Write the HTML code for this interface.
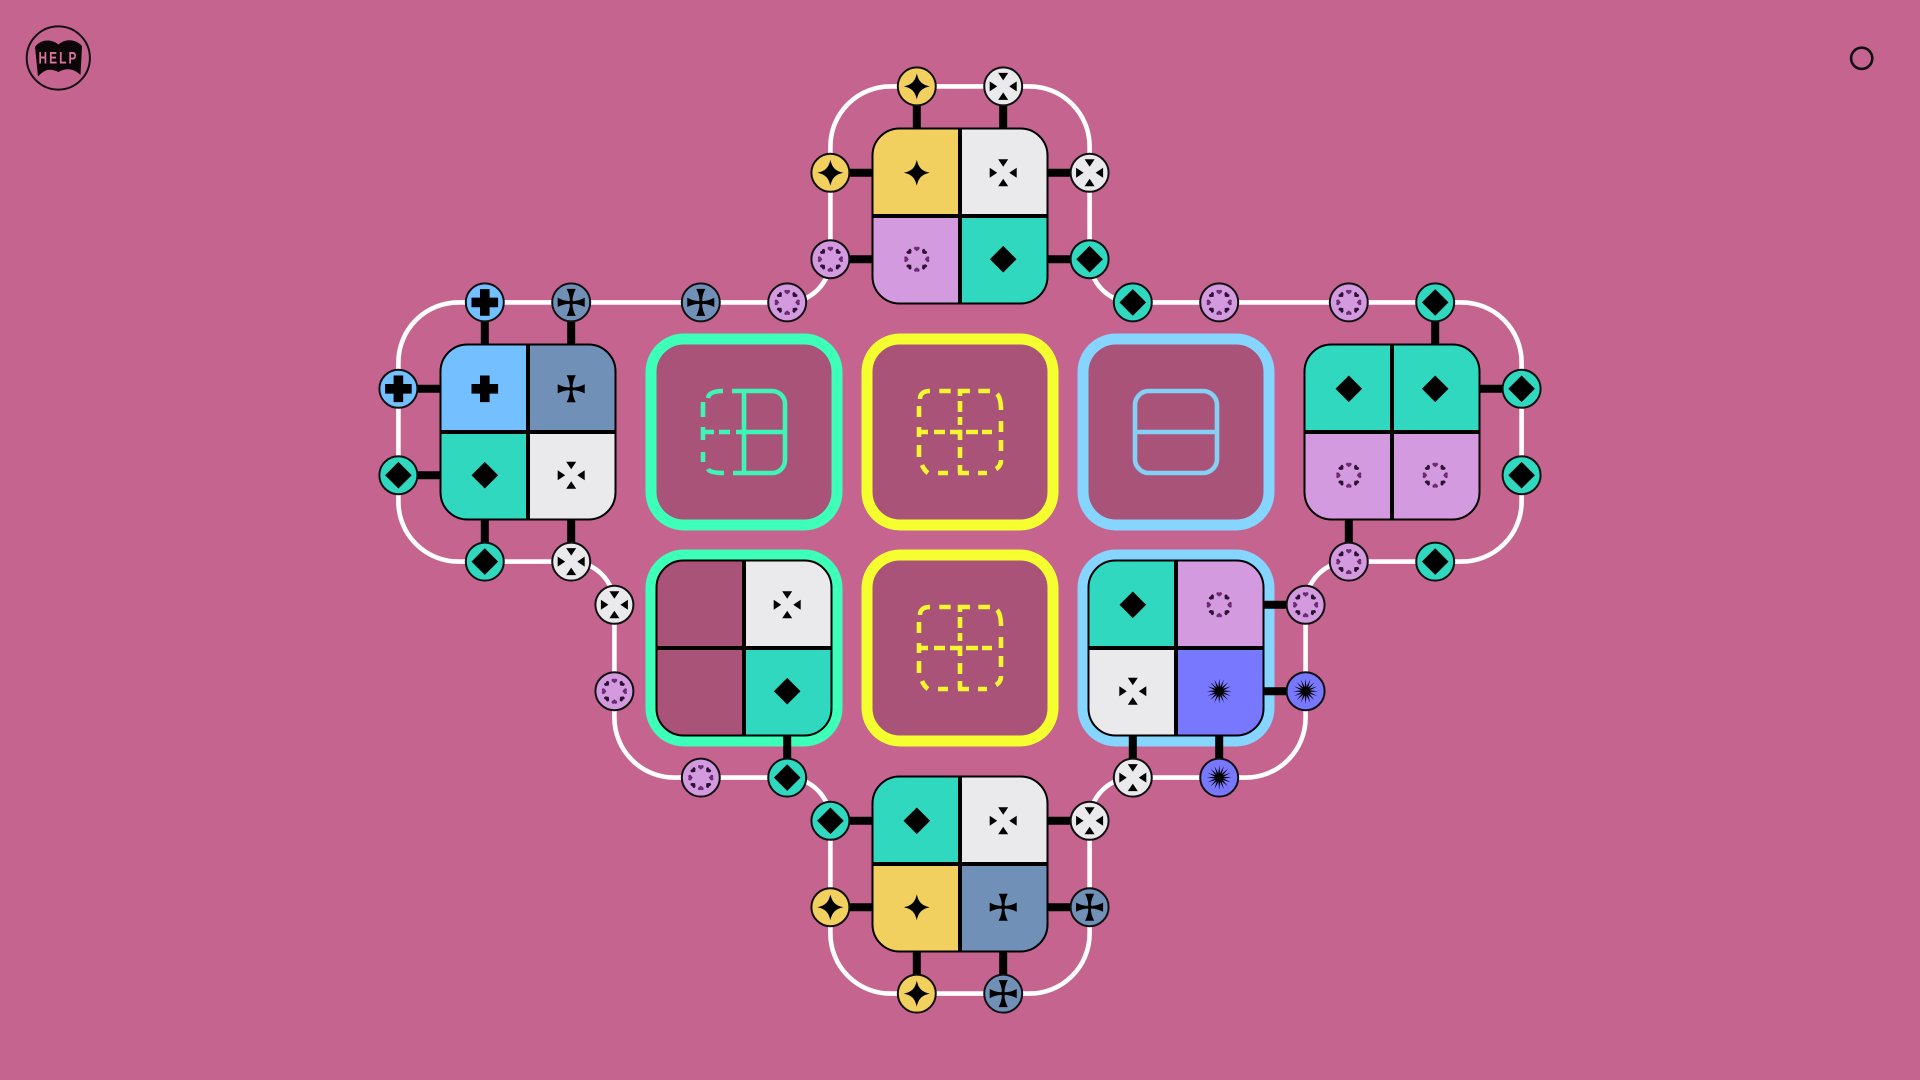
<!DOCTYPE html>
<html lang="en"><head><meta charset="utf-8"><title>Puzzle</title>
<style>
html,body{margin:0;padding:0;width:1920px;height:1080px;overflow:hidden;background:#C66490}
svg{display:block}
</style></head><body>
<svg xmlns="http://www.w3.org/2000/svg" width="1920" height="1080" viewBox="0 0 1920 1080">
<defs>
<clipPath id="clip"><rect x="-87.5" y="-87.5" width="175" height="175" rx="27"/></clipPath>
<g id="dia"><path d="M0,-13.3 L13.3,0 L0,13.3 L-13.3,0Z" fill="#000"/></g>
<g id="star"><path d="M0,-13 C1.8,-5 5,-1.8 13,0 C5,1.8 1.8,5 0,13 C-1.8,5 -5,1.8 -13,0 C-5,-1.8 -1.8,-5 0,-13Z" fill="#000"/></g>
<g id="arr" fill="#000"><path d="M-5,-13.5 L5,-13.5 L0,-6Z"/><path d="M-5,-13.5 L5,-13.5 L0,-6Z" transform="rotate(90)"/><path d="M-5,-13.5 L5,-13.5 L0,-6Z" transform="rotate(180)"/><path d="M-5,-13.5 L5,-13.5 L0,-6Z" transform="rotate(270)"/></g>
<g id="plus"><path d="M-4.8,-13.3 H4.8 V-4.8 H13.3 V4.8 H4.8 V13.3 H-4.8 V4.8 H-13.3 V-4.8 H-4.8Z" fill="#000"/></g>
<g id="mal" fill="#000"><circle r="2.4"/>
<path d="M-1.3,-1 C-1.3,-6 -2.8,-10 -4.6,-13.5 L4.6,-13.5 C2.8,-10 1.3,-6 1.3,-1Z"/>
<path d="M-1.3,-1 C-1.3,-6 -2.8,-10 -4.6,-13.5 L4.6,-13.5 C2.8,-10 1.3,-6 1.3,-1Z" transform="rotate(90)"/>
<path d="M-1.3,-1 C-1.3,-6 -2.8,-10 -4.6,-13.5 L4.6,-13.5 C2.8,-10 1.3,-6 1.3,-1Z" transform="rotate(180)"/>
<path d="M-1.3,-1 C-1.3,-6 -2.8,-10 -4.6,-13.5 L4.6,-13.5 C2.8,-10 1.3,-6 1.3,-1Z" transform="rotate(270)"/></g>
<g id="burst" fill="#000"><circle r="4.2"/>
<path d="M0,-12.5 L1.3,0 L0,12.5 L-1.3,0Z"/>
<path d="M0,-12.5 L1.3,0 L0,12.5 L-1.3,0Z" transform="rotate(22.5)"/>
<path d="M0,-12.5 L1.3,0 L0,12.5 L-1.3,0Z" transform="rotate(45)"/>
<path d="M0,-12.5 L1.3,0 L0,12.5 L-1.3,0Z" transform="rotate(67.5)"/>
<path d="M0,-12.5 L1.3,0 L0,12.5 L-1.3,0Z" transform="rotate(90)"/>
<path d="M0,-12.5 L1.3,0 L0,12.5 L-1.3,0Z" transform="rotate(112.5)"/>
<path d="M0,-12.5 L1.3,0 L0,12.5 L-1.3,0Z" transform="rotate(135)"/>
<path d="M0,-12.5 L1.3,0 L0,12.5 L-1.3,0Z" transform="rotate(157.5)"/></g>
<path id="mk" d="M-2.9,-11.6 Q-1.6,-13.4 0,-12 Q1.6,-13.4 2.9,-11.6 L2.6,-10 L0,-8 L-2.6,-10Z"/>
<g id="ring">
<g fill="#6B2C70"><use href="#mk"/><use href="#mk" transform="rotate(90)"/><use href="#mk" transform="rotate(180)"/><use href="#mk" transform="rotate(270)"/></g>
<g fill="#2A1230"><use href="#mk" transform="rotate(45)"/><use href="#mk" transform="rotate(135)"/><use href="#mk" transform="rotate(225)"/><use href="#mk" transform="rotate(315)"/></g>
</g>
<g id="tile-lines">
<path d="M0,-87.5 V87.5 M-87.5,0 H87.5" stroke="#000" stroke-width="4" fill="none"/>
<rect x="-87.5" y="-87.5" width="175" height="175" rx="27" fill="none" stroke="#000" stroke-width="2"/>
</g>
<path id="ydash" d="M-40,-33 Q-40,-41 -30,-41 M-20.7,-41 H-9.3 M10,-41 H0 V-36 M0,-31 V-20 M0,-15 V-7 M18.3,-41 H30 M37,-38 Q41,-34 41,-22 M41,-11 V0 M41,8 V19 M41,28 Q41,34 36,37 M18,41 H27 M-2,41 H9 M0,33 V41 M0,15 V26 M-22,41 H-12 M-38,33 Q-36,38 -32,41 M-41,13 V25 M-41,-26 V-15 M-41,-5 V5 M-41,0 H-32 M-26,0 H-15 M-10,0 H0 V8 M6,0 H18 M22,0 H32"/>
</defs>

<rect width="1920" height="1080" fill="#C66490"/>

<!-- help -->
<circle cx="58.3" cy="58" r="31.6" fill="none" stroke="#111" stroke-width="2"/>
<path d="M35,47 C40,40 50,38 58.5,44.5 C66,38 76,39.5 82,46 L80.5,75 C73,68 66,68 58.5,72 C50,68 45,69 38,76.5Z" fill="#0d0608"/>
<text transform="translate(58.5,63.5) scale(.7,1)" text-anchor="middle" font-family="'Liberation Sans',sans-serif" font-weight="700" font-size="17" letter-spacing="3" fill="#D8739E">HELP</text>

<circle cx="1861.7" cy="58.3" r="10.6" fill="none" stroke="#111" stroke-width="2.6"/>

<!-- wire -->
<path d="M830.4,259.2 V146.4 A60,60 0 0 1 890.4,86.4 H1029.6 A60,60 0 0 1 1089.6,146.4 V259.2 A43.2,43.2 0 0 0 1132.8,302.4 H1461.6 A60,60 0 0 1 1521.6,362.4 V501.6 A60,60 0 0 1 1461.6,561.6 H1348.8 A43.2,43.2 0 0 0 1305.6,604.8 V717.6 A60,60 0 0 1 1245.6,777.6 H1132.8 A43.2,43.2 0 0 0 1089.6,820.8 V933.6 A60,60 0 0 1 1029.6,993.6 H890.4 A60,60 0 0 1 830.4,933.6 V820.8 A43.2,43.2 0 0 0 787.2,777.6 H674.4 A60,60 0 0 1 614.4,717.6 V604.8 A43.2,43.2 0 0 0 571.2,561.6 H458.4 A60,60 0 0 1 398.4,501.6 V362.4 A60,60 0 0 1 458.4,302.4 H787.2 A43.2,43.2 0 0 0 830.4,259.2Z" fill="none" stroke="#fff" stroke-width="4.6"/>

<!-- frames -->
<g fill="#A95379" stroke-width="11">
<rect x="651" y="339" width="186" height="186" rx="33" stroke="#3DFFB8"/>
<rect x="867" y="339" width="186" height="186" rx="33" stroke="#F5FF30"/>
<rect x="1083" y="339" width="186" height="186" rx="33" stroke="#85D5FF"/>
<rect x="651" y="555" width="186" height="186" rx="33" stroke="#3DFFB8"/>
<rect x="867" y="555" width="186" height="186" rx="33" stroke="#F5FF30"/>
<rect x="1083" y="555" width="186" height="186" rx="33" stroke="#85D5FF"/>
</g>

<!-- mini icons -->
<g fill="none" stroke-width="4.6">
<g stroke="#3DF5B4" transform="translate(744,432)">
<path d="M-12,-41 H28 A13,13 0 0 1 41,-28 V28 A13,13 0 0 1 28,41 H-11 M0,-41 V41 M-8,0 H41"/>
<path d="M-36,-34 Q-35,-41 -21,-41 M-41,-30 V-15 M-41,-5 V8 M-41,0 H-30 M-25,0 H-14 M-41,20 V30 M-36,37 Q-34,41 -20,41"/>
</g>
<use href="#ydash" x="960" y="432" stroke="#F5F530"/>
<use href="#ydash" x="960" y="648" stroke="#F5F530"/>
<g stroke="#85D0F5" transform="translate(1176,432)">
<rect x="-41" y="-41" width="82" height="82" rx="14"/>
<path d="M-41,0 H41"/>
</g>
</g>

<!-- connectors -->
<path stroke="#000" stroke-width="8" fill="none" d="
M916.8,86.4 V140 M1003.2,86.4 V140 M830.4,172.8 H885 M830.4,259.2 H885 M1089.6,172.8 H1035 M1089.6,259.2 H1035
M484.8,302.4 V356 M571.2,302.4 V356 M398.4,388.8 H452 M398.4,475.2 H452 M484.8,561.6 V508 M571.2,561.6 V508
M1435.2,302.4 V356 M1521.6,388.8 H1468 M1348.8,561.6 V508
M787.2,777.6 V724
M1305.6,604.8 H1250 M1305.6,691.2 H1250 M1132.8,777.6 V724 M1219.2,777.6 V724
M830.4,820.8 H885 M830.4,907.2 H885 M1089.6,820.8 H1035 M1089.6,907.2 H1035 M916.8,993.6 V940 M1003.2,993.6 V940"/>

<!-- tile top -->
<g transform="translate(960,216)">
<g clip-path="url(#clip)">
<rect x="-87.5" y="-87.5" width="87.5" height="87.5" fill="#F2D060"/><rect x="0" y="-87.5" width="87.5" height="87.5" fill="#EAEAEC"/>
<rect x="-87.5" y="0" width="87.5" height="87.5" fill="#D49AE0"/><rect x="0" y="0" width="87.5" height="87.5" fill="#2FD8BE"/>
</g><use href="#tile-lines"/>
<use href="#star" x="-43.2" y="-43.2"/><use href="#arr" x="43.2" y="-43.2"/><use href="#ring" x="-43.2" y="43.2"/><use href="#dia" x="43.2" y="43.2"/>
</g>
<!-- tile left -->
<g transform="translate(528,432)">
<g clip-path="url(#clip)">
<rect x="-87.5" y="-87.5" width="87.5" height="87.5" fill="#74BFFF"/><rect x="0" y="-87.5" width="87.5" height="87.5" fill="#7090B8"/>
<rect x="-87.5" y="0" width="87.5" height="87.5" fill="#2FD8BE"/><rect x="0" y="0" width="87.5" height="87.5" fill="#EAEAEC"/>
</g><use href="#tile-lines"/>
<use href="#plus" x="-43.2" y="-43.2"/><use href="#mal" x="43.2" y="-43.2"/><use href="#dia" x="-43.2" y="43.2"/><use href="#arr" x="43.2" y="43.2"/>
</g>
<!-- tile right -->
<g transform="translate(1392,432)">
<g clip-path="url(#clip)">
<rect x="-87.5" y="-87.5" width="175" height="87.5" fill="#2FD8BE"/>
<rect x="-87.5" y="0" width="175" height="87.5" fill="#D49AE0"/>
</g><use href="#tile-lines"/>
<use href="#dia" x="-43.2" y="-43.2"/><use href="#dia" x="43.2" y="-43.2"/><use href="#ring" x="-43.2" y="43.2"/><use href="#ring" x="43.2" y="43.2"/>
</g>
<!-- tile BL -->
<g transform="translate(744,648)">
<g clip-path="url(#clip)">
<rect x="-87.5" y="-87.5" width="87.5" height="175" fill="#A95379"/>
<rect x="0" y="-87.5" width="87.5" height="87.5" fill="#EAEAEC"/><rect x="0" y="0" width="87.5" height="87.5" fill="#2FD8BE"/>
</g><use href="#tile-lines"/>
<use href="#arr" x="43.2" y="-43.2"/><use href="#dia" x="43.2" y="43.2"/>
</g>
<!-- tile BR -->
<g transform="translate(1176,648)">
<g clip-path="url(#clip)">
<rect x="-87.5" y="-87.5" width="87.5" height="87.5" fill="#2FD8BE"/><rect x="0" y="-87.5" width="87.5" height="87.5" fill="#D49AE0"/>
<rect x="-87.5" y="0" width="87.5" height="87.5" fill="#EAEAEC"/><rect x="0" y="0" width="87.5" height="87.5" fill="#7878FF"/>
</g><use href="#tile-lines"/>
<use href="#dia" x="-43.2" y="-43.2"/><use href="#ring" x="43.2" y="-43.2"/><use href="#arr" x="-43.2" y="43.2"/><use href="#burst" x="43.2" y="43.2"/>
</g>
<!-- tile bottom -->
<g transform="translate(960,864)">
<g clip-path="url(#clip)">
<rect x="-87.5" y="-87.5" width="87.5" height="87.5" fill="#2FD8BE"/><rect x="0" y="-87.5" width="87.5" height="87.5" fill="#EAEAEC"/>
<rect x="-87.5" y="0" width="87.5" height="87.5" fill="#F2D060"/><rect x="0" y="0" width="87.5" height="87.5" fill="#7090B8"/>
</g><use href="#tile-lines"/>
<use href="#dia" x="-43.2" y="-43.2"/><use href="#arr" x="43.2" y="-43.2"/><use href="#star" x="-43.2" y="43.2"/><use href="#mal" x="43.2" y="43.2"/>
</g>

<!-- ports -->
<g stroke="#111" stroke-width="2">
<g fill="#F2D060"><circle cx="916.8" cy="86.4" r="19"/><circle cx="830.4" cy="172.8" r="19"/><circle cx="830.4" cy="907.2" r="19"/><circle cx="916.8" cy="993.6" r="19"/></g>
<g fill="#EAEAEC"><circle cx="1003.2" cy="86.4" r="19"/><circle cx="1089.6" cy="172.8" r="19"/><circle cx="571.2" cy="561.6" r="19"/><circle cx="614.4" cy="604.8" r="19"/><circle cx="1132.8" cy="777.6" r="19"/><circle cx="1089.6" cy="820.8" r="19"/></g>
<g fill="#D49AE0"><circle cx="830.4" cy="259.2" r="19"/><circle cx="787.2" cy="302.4" r="19"/><circle cx="1219.2" cy="302.4" r="19"/><circle cx="1348.8" cy="302.4" r="19"/><circle cx="1348.8" cy="561.6" r="19"/><circle cx="1305.6" cy="604.8" r="19"/><circle cx="614.4" cy="691.2" r="19"/><circle cx="700.8" cy="777.6" r="19"/></g>
<g fill="#2FD8BE"><circle cx="1089.6" cy="259.2" r="19"/><circle cx="1132.8" cy="302.4" r="19"/><circle cx="1435.2" cy="302.4" r="19"/><circle cx="1521.6" cy="388.8" r="19"/><circle cx="1521.6" cy="475.2" r="19"/><circle cx="1435.2" cy="561.6" r="19"/><circle cx="398.4" cy="475.2" r="19"/><circle cx="484.8" cy="561.6" r="19"/><circle cx="787.2" cy="777.6" r="19"/><circle cx="830.4" cy="820.8" r="19"/></g>
<g fill="#74BFFF"><circle cx="484.8" cy="302.4" r="19"/><circle cx="398.4" cy="388.8" r="19"/></g>
<g fill="#7090B8"><circle cx="571.2" cy="302.4" r="19"/><circle cx="700.8" cy="302.4" r="19"/><circle cx="1089.6" cy="907.2" r="19"/><circle cx="1003.2" cy="993.6" r="19"/></g>
<g fill="#7878FF"><circle cx="1305.6" cy="691.2" r="19"/><circle cx="1219.2" cy="777.6" r="19"/></g>
</g>
<!-- port icons -->
<use href="#star" x="916.8" y="86.4"/><use href="#star" x="830.4" y="172.8"/><use href="#star" x="830.4" y="907.2"/><use href="#star" x="916.8" y="993.6"/>
<use href="#arr" x="1003.2" y="86.4"/><use href="#arr" x="1089.6" y="172.8"/><use href="#arr" x="571.2" y="561.6"/><use href="#arr" x="614.4" y="604.8"/><use href="#arr" x="1132.8" y="777.6"/><use href="#arr" x="1089.6" y="820.8"/>
<use href="#ring" x="830.4" y="259.2"/><use href="#ring" x="787.2" y="302.4"/><use href="#ring" x="1219.2" y="302.4"/><use href="#ring" x="1348.8" y="302.4"/><use href="#ring" x="1348.8" y="561.6"/><use href="#ring" x="1305.6" y="604.8"/><use href="#ring" x="614.4" y="691.2"/><use href="#ring" x="700.8" y="777.6"/>
<use href="#dia" x="1089.6" y="259.2"/><use href="#dia" x="1132.8" y="302.4"/><use href="#dia" x="1435.2" y="302.4"/><use href="#dia" x="1521.6" y="388.8"/><use href="#dia" x="1521.6" y="475.2"/><use href="#dia" x="1435.2" y="561.6"/><use href="#dia" x="398.4" y="475.2"/><use href="#dia" x="484.8" y="561.6"/><use href="#dia" x="787.2" y="777.6"/><use href="#dia" x="830.4" y="820.8"/>
<use href="#plus" x="484.8" y="302.4"/><use href="#plus" x="398.4" y="388.8"/>
<use href="#mal" x="571.2" y="302.4"/><use href="#mal" x="700.8" y="302.4"/><use href="#mal" x="1089.6" y="907.2"/><use href="#mal" x="1003.2" y="993.6"/>
<use href="#burst" x="1305.6" y="691.2"/><use href="#burst" x="1219.2" y="777.6"/>
</svg>
</body></html>
